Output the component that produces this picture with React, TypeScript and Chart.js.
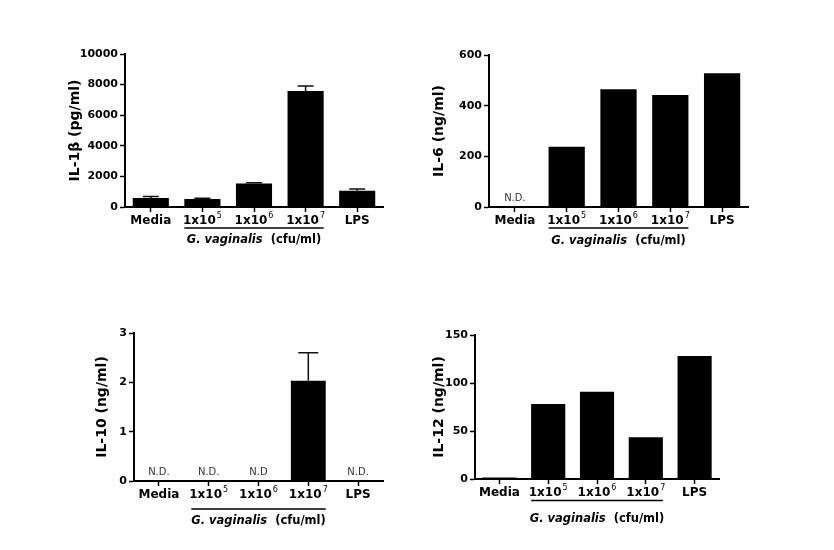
import React, { useEffect, useRef } from "react";
import { Chart, registerables } from "chart.js";

Chart.register(...registerables);

// ---------- data ----------
// "^" marks a superscript exponent in a category label
const categories = ["Media", "1x10^5", "1x10^6", "1x10^7", "LPS"];

const il1bValues = [590, 520, 1540, 7580, 1070];
const il1bErrors = [100, 60, 50, 330, 110];
const il1bNdLabels = ["", "", "", "", ""];

const il6Values = [0, 238, 465, 442, 528];
const il6Errors = [0, 0, 0, 0, 0];
const il6NdLabels = ["N.D.", "", "", "", ""];

const il10Values = [0, 0, 0.02, 2.03, 0];
const il10Errors = [0, 0, 0, 0.57, 0];
const il10NdLabels = ["N.D.", "N.D.", "N.D", "", "N.D."];

const il12Values = [1.5, 78, 91, 43.5, 128];
const il12Errors = [0, 0, 0, 0, 0];
const il12NdLabels = ["", "", "", "", ""];

const groupItalic = "G. vaginalis";
const groupRest = "  (cfu/ml)";

const FONT = "DejaVu Sans";

type PanelCfg = {
  title: string;
  values: number[];
  errors: number[];
  nd: string[];
  yMax: number;
  step: number;
  left: number;
  top: number;
  padding: { left: number; right: number; top: number; bottom: number };
  yWidth: number;
  lineOff: number;
  labelOff: number;
  capW: number;
};

const panels: PanelCfg[] = [
  {
    title: "IL-1β (pg/ml)", values: il1bValues, errors: il1bErrors, nd: il1bNdLabels,
    yMax: 10000, step: 2000, left: 0, top: 0,
    padding: { left: 67, right: 34, top: 54, bottom: 18 }, yWidth: 58,
    lineOff: 21, labelOff: 33, capW: 16,
  },
  {
    title: "IL-6 (ng/ml)", values: il6Values, errors: il6Errors, nd: il6NdLabels,
    yMax: 600, step: 200, left: 417, top: 0,
    padding: { left: 14, right: 86, top: 55, bottom: 18 }, yWidth: 58,
    lineOff: 21, labelOff: 34, capW: 16,
  },
  {
    title: "IL-10 (ng/ml)", values: il10Values, errors: il10Errors, nd: il10NdLabels,
    yMax: 3, step: 1, left: 0, top: 275,
    padding: { left: 94, right: 34, top: 58, bottom: 19 }, yWidth: 40,
    lineOff: 28, labelOff: 40, capW: 20,
  },
  {
    title: "IL-12 (ng/ml)", values: il12Values, errors: il12Errors, nd: il12NdLabels,
    yMax: 150, step: 50, left: 417, top: 275,
    padding: { left: 14, right: 115, top: 60, bottom: 21 }, yWidth: 44,
    lineOff: 21.5, labelOff: 40, capW: 16,
  },
];

const annotPlugin = {
  id: "annot",
  afterDraw(chart: any, _args: any, opts: any) {
    const ctx = chart.ctx as CanvasRenderingContext2D;
    const meta = chart.getDatasetMeta(0);
    const ys = chart.scales.y;
    const xs = chart.scales.x;
    const area = chart.chartArea;
    const data = chart.data.datasets[0].data as number[];
    ctx.save();
    // error bars
    (opts.errors || []).forEach((e: number, i: number) => {
      if (!e) return;
      const bar = meta.data[i];
      const v = data[i];
      const yTop = ys.getPixelForValue(v + e);
      const yBar = ys.getPixelForValue(v);
      ctx.strokeStyle = "#111";
      ctx.lineWidth = 1.5;
      ctx.beginPath();
      ctx.moveTo(bar.x, yBar);
      ctx.lineTo(bar.x, yTop);
      ctx.moveTo(bar.x - opts.capW / 2, yTop);
      ctx.lineTo(bar.x + opts.capW / 2, yTop);
      ctx.stroke();
    });
    // N.D. labels
    ctx.fillStyle = "#333";
    ctx.font = `10px "${FONT}"`;
    ctx.textAlign = "center";
    ctx.textBaseline = "alphabetic";
    (opts.nd || []).forEach((t: string, i: number) => {
      if (!t) return;
      ctx.fillText(t, xs.getPixelForValue(i), ys.getPixelForValue(0) - 6);
    });
    // category labels with superscript exponents
    const labels = chart.data.labels as string[];
    const fBase = `bold 12px "${FONT}"`;
    const fSup = `8px "${FONT}"`;
    const baseY = area.bottom + 14;
    ctx.fillStyle = "#000";
    ctx.textAlign = "left";
    ctx.textBaseline = "middle";
    labels.forEach((lab: string, i: number) => {
      const [base, exp] = lab.split("^");
      ctx.font = fBase;
      const wb = ctx.measureText(base).width;
      let we = 0;
      if (exp) {
        ctx.font = fSup;
        we = ctx.measureText(exp).width + 1;
      }
      const sx = xs.getPixelForValue(i) - (wb + we) / 2;
      ctx.font = fBase;
      ctx.fillText(base, sx, baseY);
      if (exp) {
        ctx.font = fSup;
        ctx.fillText(exp, sx + wb + 1, baseY - 5);
      }
    });
    // group bracket
    const b1 = meta.data[1];
    const b3 = meta.data[3];
    const lineY = area.bottom + opts.lineOff;
    ctx.strokeStyle = "#000";
    ctx.lineWidth = 1.5;
    ctx.beginPath();
    ctx.moveTo(b1.x - b1.width / 2, lineY);
    ctx.lineTo(b3.x + b3.width / 2, lineY);
    ctx.stroke();
    // group label
    const cx = xs.getPixelForValue(2);
    const ly = area.bottom + opts.labelOff;
    const fItal = `italic bold 11.5px "${FONT}"`;
    const fReg = `bold 11.5px "${FONT}"`;
    ctx.font = fItal;
    const w1 = ctx.measureText(groupItalic).width;
    ctx.font = fReg;
    const w2 = ctx.measureText(groupRest).width;
    const startX = cx - (w1 + w2) / 2;
    ctx.fillStyle = "#000";
    ctx.textAlign = "left";
    ctx.textBaseline = "middle";
    ctx.font = fItal;
    ctx.fillText(groupItalic, startX, ly);
    ctx.font = fReg;
    ctx.fillText(groupRest, startX + w1, ly);
    ctx.restore();
  },
};

function Panel({ cfg }: { cfg: PanelCfg }) {
  const ref = useRef<HTMLCanvasElement | null>(null);
  useEffect(() => {
    if (!ref.current) return;
    const chart = new Chart(ref.current, {
      type: "bar",
      data: {
        labels: categories,
        datasets: [
          {
            data: cfg.values,
            backgroundColor: "#000",
            borderWidth: 0,
            categoryPercentage: 1,
            barPercentage: 0.7,
          },
        ],
      },
      options: {
        responsive: false,
        animation: false,
        devicePixelRatio: 1,
        layout: { padding: cfg.padding },
        plugins: {
          legend: { display: false },
          tooltip: { enabled: false },
          annot: {
            errors: cfg.errors,
            nd: cfg.nd,
            lineOff: cfg.lineOff,
            labelOff: cfg.labelOff,
            capW: cfg.capW,
          },
        } as any,
        scales: {
          x: {
            offset: true,
            grid: {
              display: true,
              drawOnChartArea: false,
              offset: false,
              tickLength: 5,
              tickWidth: 1.5,
              tickColor: "#000",
            },
            border: { display: true, color: "#000", width: 2 },
            ticks: { display: false },
            afterFit: (s: any) => {
              s.height = 50;
            },
          },
          y: {
            min: 0,
            max: cfg.yMax,
            ticks: {
              stepSize: cfg.step,
              color: "#000",
              font: { family: FONT, size: 11, weight: "bold" },
              padding: 2,
              callback: (v: any) => String(v),
            },
            grid: {
              display: true,
              drawOnChartArea: false,
              tickLength: 5,
              tickWidth: 1.5,
              tickColor: "#000",
            },
            border: { display: true, color: "#000", width: 2 },
            title: {
              display: true,
              text: cfg.title,
              color: "#000",
              font: { family: FONT, size: 14, weight: "bold" },
              padding: 0,
            },
            afterFit: (s: any) => {
              s.width = cfg.yWidth;
            },
          },
        },
      } as any,
      plugins: [annotPlugin],
    });
    return () => chart.destroy();
  }, [cfg]);
  return (
    <canvas
      ref={ref}
      width={417}
      height={275}
      style={{ position: "absolute", left: cfg.left, top: cfg.top, width: 417, height: 275 }}
    />
  );
}

export default function App() {
  return (
    <div
      style={{
        position: "fixed",
        left: 0,
        top: 0,
        width: 834,
        height: 550,
        background: "#fff",
        overflow: "hidden",
      }}
    >
      {panels.map((p, i) => (
        <Panel key={i} cfg={p} />
      ))}
    </div>
  );
}
